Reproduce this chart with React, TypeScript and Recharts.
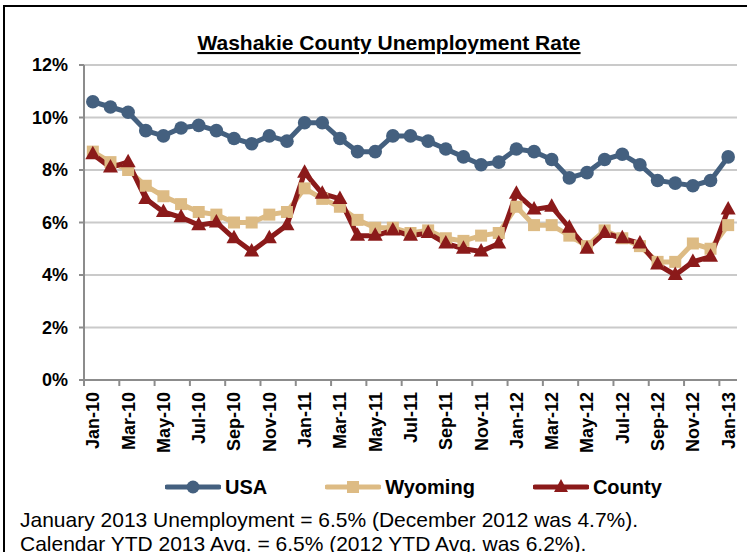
import React from 'react';
import { LineChart, Line, XAxis, YAxis, CartesianGrid } from 'recharts';

const months = [
  'Jan-10', 'Feb-10', 'Mar-10', 'Apr-10', 'May-10', 'Jun-10', 'Jul-10', 'Aug-10', 'Sep-10', 'Oct-10', 'Nov-10', 'Dec-10',
  'Jan-11', 'Feb-11', 'Mar-11', 'Apr-11', 'May-11', 'Jun-11', 'Jul-11', 'Aug-11', 'Sep-11', 'Oct-11', 'Nov-11', 'Dec-11',
  'Jan-12', 'Feb-12', 'Mar-12', 'Apr-12', 'May-12', 'Jun-12', 'Jul-12', 'Aug-12', 'Sep-12', 'Oct-12', 'Nov-12', 'Dec-12',
  'Jan-13',
];

const usa = [
  10.6, 10.4, 10.2, 9.5, 9.3, 9.6, 9.7, 9.5, 9.2, 9.0, 9.3, 9.1,
  9.8, 9.8, 9.2, 8.7, 8.7, 9.3, 9.3, 9.1, 8.8, 8.5, 8.2, 8.3,
  8.8, 8.7, 8.4, 7.7, 7.9, 8.4, 8.6, 8.2, 7.6, 7.5, 7.4, 7.6,
  8.5,
];

const wyoming = [
  8.7, 8.3, 8.0, 7.4, 7.0, 6.7, 6.4, 6.3, 6.0, 6.0, 6.3, 6.4,
  7.3, 6.9, 6.6, 6.1, 5.8, 5.8, 5.6, 5.7, 5.4, 5.3, 5.5, 5.6,
  6.6, 5.9, 5.9, 5.5, 5.1, 5.7, 5.4, 5.1, 4.5, 4.5, 5.2, 5.0,
  5.9,
];

const county = [
  8.6, 8.1, 8.3, 6.9, 6.4, 6.2, 5.9, 6.0, 5.4, 4.9, 5.4, 5.9,
  7.9, 7.1, 6.9, 5.5, 5.5, 5.7, 5.5, 5.6, 5.2, 5.0, 4.9, 5.2,
  7.1, 6.5, 6.6, 5.8, 5.0, 5.6, 5.4, 5.2, 4.4, 4.0, 4.5, 4.7,
  6.5,
];

const yTicks = [0, 2, 4, 6, 8, 10, 12];

const seriesNames = ['USA', 'Wyoming', 'County'];

const title = 'Washakie County Unemployment Rate';
const noteLines = [
  'January 2013 Unemployment = 6.5% (December 2012 was 4.7%).',
  'Calendar YTD 2013 Avg. = 6.5% (2012 YTD Avg. was 6.2%).',
];

const data = months.map((m, i) => ({
  month: m,
  USA: usa[i],
  Wyoming: wyoming[i],
  County: county[i],
}));

const BLUE = '#44607F';
const TAN = '#DDBB84';
const RED = '#8B1A1A';
const AXIS = '#8C8C8C';
const GRID = '#CACACA';
const FONT = 'Arial, "Liberation Sans", Helvetica, sans-serif';

const W = 747;
const H = 552;
const PLOT_LEFT = 84;
const PLOT_RIGHT = 737;
const PLOT_TOP = 65;
const PLOT_BOTTOM = 380;
const BAND = (PLOT_RIGHT - PLOT_LEFT) / months.length;

const CircleDot = (p: any) =>
  p.cx == null ? <g key={`u${p.index}`} /> : <circle key={`u${p.index}`} cx={p.cx} cy={p.cy} r={6.8} fill={BLUE} />;

const SquareDot = (p: any) =>
  p.cx == null ? <g key={`w${p.index}`} /> : (
    <rect key={`w${p.index}`} x={p.cx - 6} y={p.cy - 6} width={12} height={12} fill={TAN} />
  );

const TriDot = (p: any) =>
  p.cx == null ? <g key={`c${p.index}`} /> : (
    <path
      key={`c${p.index}`}
      d={`M${p.cx},${p.cy - 8.5} L${p.cx + 7.5},${p.cy + 5} L${p.cx - 7.5},${p.cy + 5} Z`}
      fill={RED}
    />
  );

const XTick = (p: any) => {
  const { x, y, payload } = p;
  const idx = payload.index;
  if (idx % 2 !== 0) return <g />;
  const off = BAND / 2;
  return (
    <g>
      <line x1={x - off} x2={x - off} y1={y} y2={y + 6} stroke={AXIS} strokeWidth={2} />
      <text
        x={x}
        y={y + 12}
        transform={`rotate(-90 ${x} ${y + 12})`}
        textAnchor="end"
        dy="0.36em"
        fontSize={18}
        fontWeight="bold"
        fontFamily={FONT}
        fill="#000"
      >
        {payload.value}
      </text>
    </g>
  );
};

const legendMarker = (name: string) => {
  if (name === 'USA') return <circle cx={28} cy={8} r={6.5} fill={BLUE} />;
  if (name === 'Wyoming') return <rect x={22} y={2} width={12} height={12} fill={TAN} />;
  return <path d="M28,0 L35,13 L21,13 Z" fill={RED} />;
};

const colorOf: Record<string, string> = { USA: BLUE, Wyoming: TAN, County: RED };

const LegendBlock = () => (
  <div style={{ position: 'absolute', left: 165, top: 475, display: 'flex', alignItems: 'center', fontFamily: FONT }}>
    {seriesNames.map((n, i) => (
      <div key={n} style={{ display: 'flex', alignItems: 'center', marginLeft: i === 0 ? 0 : 58 }}>
        <svg width={56} height={16} style={{ display: 'block' }}>
          <line x1={2} x2={54} y1={8} y2={8} stroke={colorOf[n]} strokeWidth={5} strokeLinecap="round" />
          {legendMarker(n)}
        </svg>
        <span style={{ marginLeft: 4, fontSize: 20, fontWeight: 'bold', color: '#000', lineHeight: '24px' }}>{n}</span>
      </div>
    ))}
  </div>
);

export default function App() {
  return (
    <div style={{ position: 'absolute', left: 0, top: 0, width: W, height: H, overflow: 'hidden', background: '#fff' }}>
      <div
        style={{
          position: 'absolute',
          left: 3,
          top: 5,
          width: 900,
          height: 900,
          borderLeft: '2px solid #000',
          borderTop: '2px solid #000',
        }}
      />
      <LineChart
        width={W}
        height={H}
        data={data}
        margin={{ top: PLOT_TOP, right: W - PLOT_RIGHT, left: 0, bottom: 0 }}
        style={{ position: 'absolute', left: 0, top: 0 }}
      >
        <CartesianGrid vertical={false} stroke={GRID} strokeWidth={2} />
        <XAxis
          dataKey="month"
          scale="band"
          interval={0}
          height={H - PLOT_BOTTOM}
          tickSize={0}
          tickMargin={0}
          tickLine={false}
          axisLine={{ stroke: AXIS, strokeWidth: 2 }}
          tick={<XTick />}
        />
        <YAxis
          width={PLOT_LEFT}
          domain={[0, 12]}
          ticks={yTicks}
          tickFormatter={(v: number) => `${v}%`}
          tickSize={5}
          tickMargin={11}
          axisLine={{ stroke: AXIS, strokeWidth: 2 }}
          tickLine={{ stroke: AXIS, strokeWidth: 2 }}
          tick={{ fontSize: 18, fontWeight: 'bold', fill: '#000', fontFamily: FONT }}
        />
        <Line dataKey="USA" stroke={BLUE} strokeWidth={5} dot={CircleDot} activeDot={false} isAnimationActive={false} />
        <Line dataKey="Wyoming" stroke={TAN} strokeWidth={5} dot={SquareDot} activeDot={false} isAnimationActive={false} />
        <Line dataKey="County" stroke={RED} strokeWidth={5} dot={TriDot} activeDot={false} isAnimationActive={false} />
      </LineChart>
      <LegendBlock />
      <svg width={W} height={H} style={{ position: 'absolute', left: 0, top: 0, pointerEvents: 'none' }}>
        <text
          x={389}
          y={50}
          textAnchor="middle"
          fontFamily={FONT}
          fontSize={21}
          fontWeight="bold"
          textDecoration="underline"
          fill="#000"
        >
          {title}
        </text>
        {noteLines.map((t, i) => (
          <text key={i} x={20} y={527 + i * 24} fontFamily={FONT} fontSize={21} fill="#000">
            {t}
          </text>
        ))}
      </svg>
    </div>
  );
}
